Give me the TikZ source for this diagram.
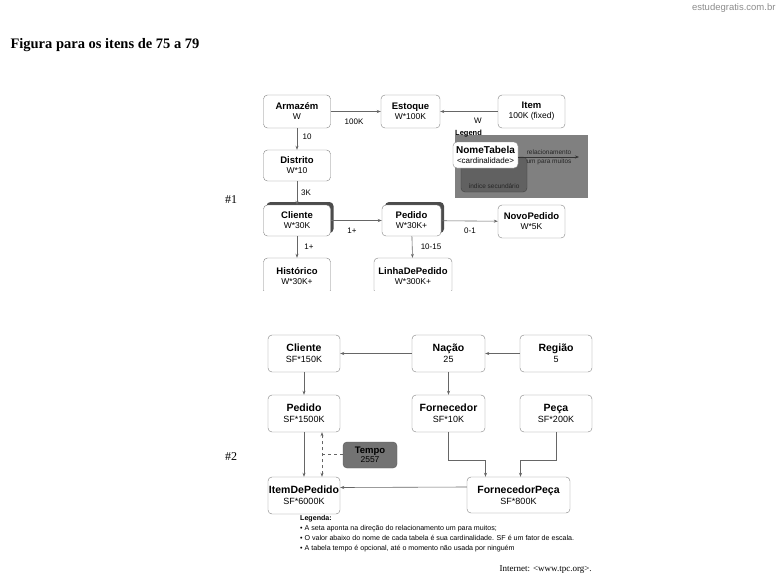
\documentclass[tikz,border=0pt]{standalone}
\usepackage{fontspec}
\setmainfont{Liberation Serif}
\setsansfont{Liberation Sans}
\usetikzlibrary{arrows.meta, shadows}

\tikzstyle{tabela} = [rectangle, rounded corners=4pt, minimum width=67pt,
    minimum height=33pt, inner sep=1pt, align=center, draw=black!50,
    fill=white, font=\sffamily\fontsize{8.5}{10}\selectfont]
\tikzstyle{tabela2} = [tabela, minimum width=72pt, minimum height=37pt,
    font=\sffamily\fontsize{9}{11}\selectfont]
\tikzstyle{sombra} = [drop shadow={shadow xshift=3pt, shadow yshift=3pt,
    fill=black!70, opacity=1}]
\tikzstyle{seta} = [draw=black!60, line width=0.6pt, -{Stealth[length=4pt,width=3pt]}]
\tikzstyle{tracejada} = [seta, dashed, {Stealth[length=4pt,width=3pt]}-{Stealth[length=4pt,width=3pt]}]
\tikzstyle{rotulo} = [font=\sffamily\fontsize{8}{9}\selectfont]
\tikzstyle{miudo} = [font=\sffamily\fontsize{6.5}{7.5}\selectfont, inner sep=0pt]

\newcommand{\nomeval}[2]{{\bfseries\fontsize{9.5}{11}\selectfont #1}\\#2}
\newcommand{\nomevalG}[2]{{\bfseries\fontsize{10.5}{12.5}\selectfont #1}\\#2}

\begin{document}
\begin{tikzpicture}[x=1pt, y=-1pt]
\useasboundingbox (0,0) rectangle (780,587);

% Header
\node (site) [anchor=east, font=\sffamily\fontsize{9.5}{11}\selectfont, text=black!45] at (779,8) {estudegratis.com.br};
\node (titulo) [anchor=west, font=\rmfamily\bfseries\fontsize{14.5}{16}\selectfont] at (7,45) {Figura para os itens de 75 a 79};
\node (fig1) [font=\rmfamily\fontsize{12}{14}\selectfont] at (231,200) {\#1};
\node (fig2) [font=\rmfamily\fontsize{12}{14}\selectfont] at (231,457) {\#2};

% Nodes #1
\node (armazem) [tabela] at (297,111.5) {\nomeval{Armazém}{W}};
\node (estoque) [tabela, minimum width=59pt] at (410.5,111.5) {\nomeval{Estoque}{W*100K}};
\node (item) [tabela] at (531.5,111.5) {\nomeval{Item}{100K (fixed)}};
\node (distrito) [tabela, minimum height=31pt] at (297,165.5) {\nomeval{Distrito}{W*10}};
\node (cliente) [tabela, sombra, minimum height=31pt] at (297,220.5) {\nomeval{Cliente}{W*30K}};
\node (pedido) [tabela, sombra, minimum width=59pt, minimum height=31pt] at (411.5,220.5) {\nomeval{Pedido}{W*30K+}};
\node (novopedido) [tabela] at (531.5,221.5) {\nomeval{NovoPedido}{W*5K}};
\begin{scope}
\clip (250,250) rectangle (470,290.5);
\node (historico) [tabela, minimum height=36pt] at (297,276) {\nomeval{Histórico}{W*30K+}};
\node (linha) [tabela, minimum width=78pt, minimum height=36pt] at (413,276) {\nomeval{LinhaDePedido}{W*300K+}};
\end{scope}

% Legend #1
\fill[black!50] (455,135) rectangle (588,198);
\node (legend) [anchor=west, font=\sffamily\bfseries\fontsize{7.5}{8}\selectfont, inner sep=0pt] at (455,134) {Legend};
\node (indice) [rectangle, rounded corners=4pt, draw=black!75, fill=black!62,
    minimum width=66pt, minimum height=35pt] at (494,174.5) {};
\node (indicetxt) [miudo, text=black!85] at (494,186) {índice secundário};
\node (nometabela) [rectangle, rounded corners=4pt, draw=black!45, fill=white,
    minimum width=65pt, minimum height=26pt, inner sep=1pt, align=center,
    font=\sffamily\fontsize{8}{9.5}\selectfont] at (485.5,155) {{\bfseries\fontsize{10}{11}\selectfont NomeTabela}\\<cardinalidade>};
\coordinate (relfim) at (579,157);
\node (reltxt1) [miudo, text=black!85] at (549,152.5) {relacionamento};
\node (reltxt2) [miudo, text=black!85] at (549,162) {um para muitos};

% Arrows #1
\draw [seta] (armazem) -- (estoque);
\draw [seta] (item) -- (estoque);
\draw [seta] (armazem) -- (distrito);
\draw [seta] (distrito) -- (cliente);
\draw [seta] (cliente) -- (pedido);
\draw [seta] (pedido) -- (novopedido);
\draw [seta] (cliente) -- (historico);
\draw [seta] (pedido) -- (linha);
\draw [seta, draw=black!80] ([yshift=-2pt]nometabela.east) -- (relfim);

% Labels #1
\node (l100k) [rotulo] at (354,122) {100K};
\node (lw) [rotulo] at (478,121) {W};
\node (l10) [rotulo] at (307,137) {10};
\node (l3k) [rotulo] at (306,192.5) {3K};
\node (l1a) [rotulo] at (352,231) {1+};
\node (l01) [rotulo] at (470,231) {0-1};
\node (l1b) [rotulo] at (309,246.5) {1+};
\node (l1015) [rotulo] at (431,246.5) {10-15};

% Nodes #2
\node (cliente2) [tabela2] at (304,353.5) {\nomevalG{Cliente}{SF*150K}};
\node (nacao) [tabela2, minimum width=73pt] at (448.5,353.5) {\nomevalG{Nação}{25}};
\node (regiao) [tabela2] at (556,353.5) {\nomevalG{Região}{5}};
\node (pedido2) [tabela2] at (304,413.5) {\nomevalG{Pedido}{SF*1500K}};
\node (fornecedor) [tabela2, minimum width=73pt] at (448.5,413.5) {\nomevalG{Fornecedor}{SF*10K}};
\node (peca) [tabela2] at (556,413.5) {\nomevalG{Peça}{SF*200K}};
\node (tempo) [tabela2, minimum width=54pt, minimum height=26pt, fill=black!55,
    draw=black!65, font=\sffamily\fontsize{8.5}{9.5}\selectfont] at (370,455) {\nomeval{Tempo}{2557}};
\node (itempedido) [tabela2] at (304,495.5) {\nomevalG{ItemDePedido}{SF*6000K}};
\node (fornpeca) [tabela2, minimum width=103pt, minimum height=36pt] at (518.5,495) {\nomevalG{FornecedorPeça}{SF*800K}};
\coordinate (tj) at (322,454);

% Arrows #2
\draw [seta] (nacao) -- (cliente2);
\draw [seta] (regiao) -- (nacao);
\draw [seta] (cliente2) -- (pedido2);
\draw [seta] (nacao) -- (fornecedor);
\draw [seta] (pedido2) -- (itempedido);
\draw [tracejada] (tj |- itempedido.north) -- (tj |- pedido2.south);
\draw [seta, dashed, -] (tj) -- (tempo.west |- tj);
\draw [seta] (fornecedor.south) -- ++(0,28) -| ([xshift=-33pt]fornpeca.north);
\draw [seta] (peca.south) -- ++(0,28) -| ([xshift=2pt]fornpeca.north);
\draw [seta] ([yshift=8pt]fornpeca.west) -- ([yshift=8pt]itempedido.east);

% Legenda #2
\node (legenda) [anchor=north west, align=left, inner sep=0pt,
    font=\sffamily\fontsize{7.1}{10}\selectfont] at (300,515)
    {\textbf{Legenda:}\\
     • A seta aponta na direção do relacionamento um para muitos;\\
     • O valor abaixo do nome de cada tabela é sua cardinalidade. SF é um fator de escala.\\
     • A tabela tempo é opcional, até o momento não usada por ninguém};
\node (internet) [anchor=west, font=\rmfamily\fontsize{9}{10}\selectfont] at (496,570) {Internet: <www.tpc.org>.};

\end{tikzpicture}
\end{document}
